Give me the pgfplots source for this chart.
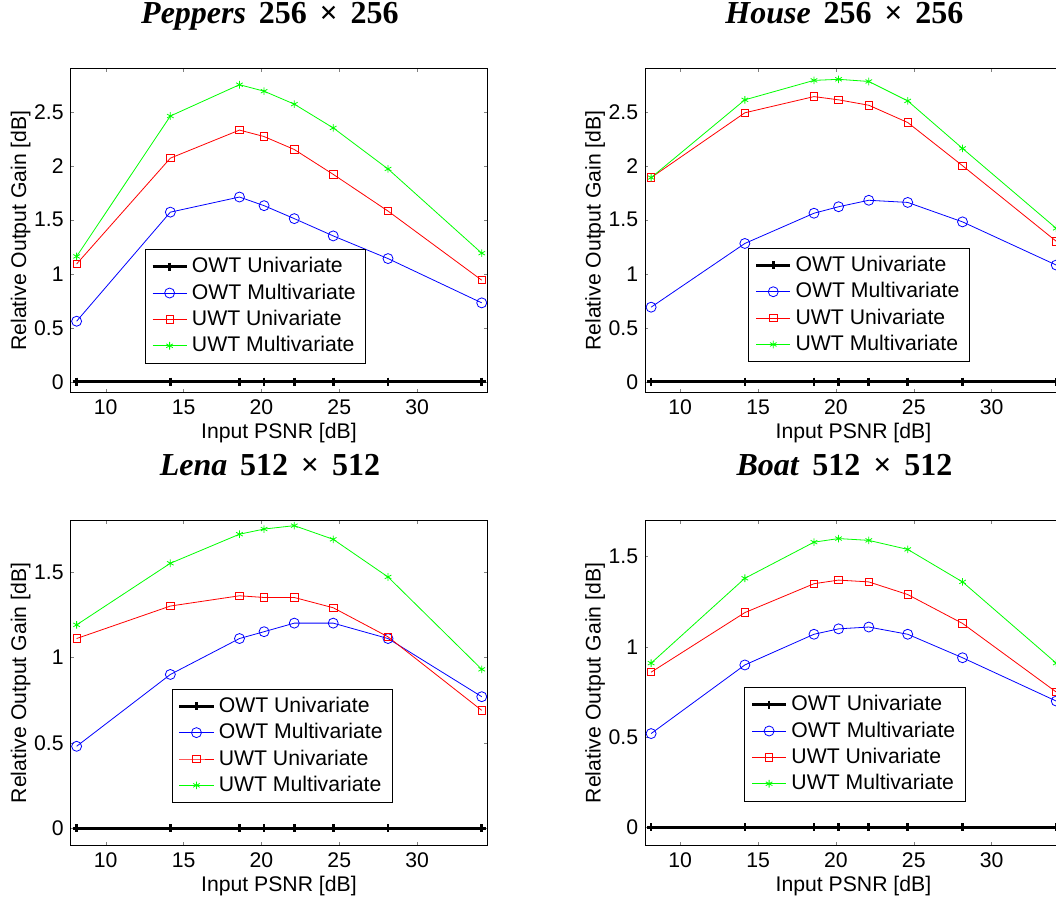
\documentclass[border=0pt]{standalone}
\usepackage[no-math]{fontspec}
\setmainfont{Liberation Sans}
\newfontfamily\titlefont{Liberation Serif}
\usepackage{pgfplots}
\usepackage{pgfplotstable}
\pgfplotsset{compat=1.18}

% input PSNR [dB] and relative output gain [dB] for each test image
\pgfplotstableread{
x     owtu owtm uwtu uwtm
8.13  0    0.56 1.09 1.16
14.15 0    1.57 2.07 2.46
18.59 0    1.71 2.33 2.75
20.17 0    1.63 2.27 2.69
22.11 0    1.51 2.15 2.57
24.61 0    1.35 1.92 2.35
28.13 0    1.14 1.58 1.97
34.15 0    0.73 0.94 1.19
}\peppers

\pgfplotstableread{
x     owtu owtm uwtu uwtm
8.13  0    0.69 1.89 1.89
14.15 0    1.28 2.49 2.61
18.59 0    1.56 2.64 2.79
20.17 0    1.62 2.61 2.80
22.11 0    1.68 2.56 2.78
24.61 0    1.66 2.40 2.60
28.13 0    1.48 2.00 2.16
34.15 0    1.08 1.30 1.42
}\house

\pgfplotstableread{
x     owtu owtm uwtu uwtm
8.13  0    0.48 1.11 1.19
14.15 0    0.90 1.30 1.55
18.59 0    1.11 1.36 1.72
20.17 0    1.15 1.35 1.75
22.11 0    1.20 1.35 1.77
24.61 0    1.20 1.29 1.69
28.13 0    1.11 1.12 1.47
34.15 0    0.77 0.69 0.93
}\lena

\pgfplotstableread{
x     owtu owtm uwtu uwtm
8.13  0    0.52 0.86 0.91
14.15 0    0.90 1.19 1.38
18.59 0    1.07 1.35 1.58
20.17 0    1.10 1.37 1.60
22.11 0    1.11 1.36 1.59
24.61 0    1.07 1.29 1.54
28.13 0    0.94 1.13 1.36
34.15 0    0.70 0.75 0.91
}\boat

\pgfplotsset{
  gainplot/.style={
    scale only axis,
    width=208.25pt,
    height=162pt,
    xmin=7.75, xmax=34.5,
    ymin=-0.1,
    xtick={10,15,20,25,30},
    tick align=inside,
    major tick length=1.6pt,
    /pgf/number format/assume math mode=true,
    tick label style={font=\fontsize{10.6}{12}\selectfont},
    xlabel={Input PSNR [dB]},
    ylabel={Relative Output Gain [dB]},
    xlabel style={font=\fontsize{10.6}{12}\selectfont, yshift=2.5pt},
    ylabel style={font=\fontsize{10.6}{12}\selectfont, yshift=-5pt},
    title style={font=\titlefont\fontsize{16}{19}\selectfont\bfseries,
      inner sep=1pt, text depth=4pt, yshift=11.25pt, xshift=-4.5pt},
    legend style={anchor=south west, draw=black, font=\fontsize{10.6}{12}\selectfont},
    legend cell align=left,
  },
}

\begin{document}
\begin{tikzpicture}

\begin{axis}[gainplot, at={(35.35pt,-34.25pt)}, anchor=north west,
  ymax=2.9, ytick={0,0.5,1,1.5,2,2.5},
  title={\textit{Peppers}\hspace{0.4em}256\hspace{0.4em}×\hspace{0.4em}256},
  legend style={at={(0.178,0.09)}}]
  \addplot[black, line width=1.3pt, mark=+, mark size=2pt] table[x index=0,y index=1] {\peppers};
  \addplot[blue, mark=o, mark size=2.5pt] table[x index=0,y index=2] {\peppers};
  \addplot[red, mark=square, mark size=1.85pt] table[x index=0,y index=3] {\peppers};
  \addplot[green, mark=asterisk, mark size=1.9pt] table[x index=0,y index=4] {\peppers};
  \legend{OWT Univariate, OWT Multivariate, UWT Univariate, UWT Multivariate}
\end{axis}

\begin{axis}[gainplot, at={(322.6pt,-34.25pt)}, anchor=north west,
  ymax=2.9, ytick={0,0.5,1,1.5,2,2.5},
  title={\textit{House}\hspace{0.4em}256\hspace{0.4em}×\hspace{0.4em}256},
  legend style={at={(0.248,0.094)}}]
  \addplot[black, line width=1.3pt, mark=+, mark size=2pt] table[x index=0,y index=1] {\house};
  \addplot[blue, mark=o, mark size=2.5pt] table[x index=0,y index=2] {\house};
  \addplot[red, mark=square, mark size=1.85pt] table[x index=0,y index=3] {\house};
  \addplot[green, mark=asterisk, mark size=1.9pt] table[x index=0,y index=4] {\house};
  \legend{OWT Univariate, OWT Multivariate, UWT Univariate, UWT Multivariate}
\end{axis}

\begin{axis}[gainplot, at={(35.35pt,-260.25pt)}, anchor=north west,
  height=162.5pt, ymax=1.8, ytick={0,0.5,1,1.5},
  title={\textit{Lena}\hspace{0.4em}512\hspace{0.4em}×\hspace{0.4em}512},
  legend style={at={(0.2425,0.131)}}]
  \addplot[black, line width=1.3pt, mark=+, mark size=2pt] table[x index=0,y index=1] {\lena};
  \addplot[blue, mark=o, mark size=2.5pt] table[x index=0,y index=2] {\lena};
  \addplot[red, mark=square, mark size=1.85pt] table[x index=0,y index=3] {\lena};
  \addplot[green, mark=asterisk, mark size=1.9pt] table[x index=0,y index=4] {\lena};
  \legend{OWT Univariate, OWT Multivariate, UWT Univariate, UWT Multivariate}
\end{axis}

\begin{axis}[gainplot, at={(322.6pt,-260.25pt)}, anchor=north west,
  height=162.5pt, ymax=1.7, ytick={0,0.5,1,1.5},
  title={\textit{Boat}\hspace{0.4em}512\hspace{0.4em}×\hspace{0.4em}512},
  legend style={at={(0.238,0.136)}}]
  \addplot[black, line width=1.3pt, mark=+, mark size=2pt] table[x index=0,y index=1] {\boat};
  \addplot[blue, mark=o, mark size=2.5pt] table[x index=0,y index=2] {\boat};
  \addplot[red, mark=square, mark size=1.85pt] table[x index=0,y index=3] {\boat};
  \addplot[green, mark=asterisk, mark size=1.9pt] table[x index=0,y index=4] {\boat};
  \legend{OWT Univariate, OWT Multivariate, UWT Univariate, UWT Multivariate}
\end{axis}

\pgfresetboundingbox
\useasboundingbox (0pt,0pt) rectangle (528pt,-448pt);
\end{tikzpicture}
\end{document}
